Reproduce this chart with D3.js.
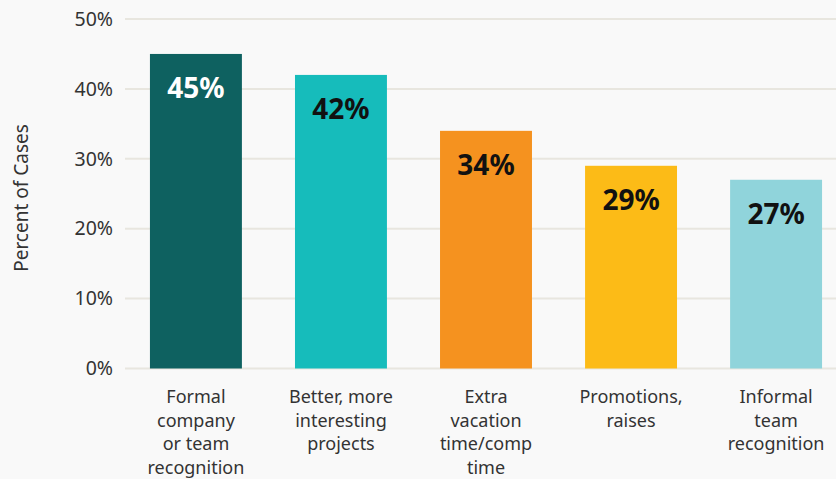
<!DOCTYPE html>
<html>
<head>
<meta charset="utf-8">
<script src="https://cdn.jsdelivr.net/npm/d3@7"></script>
<style>
  html, body { margin: 0; padding: 0; background: #f9f9f9; }
  svg { display: block; }
</style>
</head>
<body>
<svg id="chart" width="836" height="479"></svg>
<script>
// Reward types and share of cases
const categories = [
  ["Formal", "company", "or team", "recognition"],
  ["Better, more", "interesting", "projects"],
  ["Extra", "vacation", "time/comp", "time"],
  ["Promotions,", "raises"],
  ["Informal", "team", "recognition"]
];
const values = [45, 42, 34, 29, 27];
const barColors = ["#0e6160", "#16bcbb", "#f5921f", "#fcbb17", "#90d4db"];
const labelColors = ["#ffffff", "#111111", "#111111", "#111111", "#111111"];
const yTicks = [0, 10, 20, 30, 40, 50];

const W = 836, H = 479;
const svg = d3.select("#chart");
const font = "'Noto Sans', 'Open Sans', sans-serif";

const y = d3.scaleLinear().domain([0, 50]).range([368.5, 19]);
const x = d3.scaleBand()
  .domain(d3.range(values.length))
  .range([125, 847])
  .paddingInner(0.366)
  .paddingOuter(0.172);

// Gridlines
svg.append("g")
  .selectAll("line")
  .data(yTicks)
  .join("line")
  .attr("x1", 125).attr("x2", W)
  .attr("y1", d => y(d)).attr("y2", d => y(d))
  .attr("stroke", "#e8e6df")
  .attr("stroke-width", 2);

// Y axis labels
const yAxis = d3.axisLeft(y).tickValues(yTicks).tickFormat(d => d + "%").tickSize(0).tickPadding(0);
const gy = svg.append("g").attr("transform", "translate(113,0)").call(yAxis);
gy.select(".domain").remove();
gy.selectAll("text")
  .attr("font-family", font)
  .attr("font-size", 19.5)
  .attr("fill", "#333333");

// Y axis title
svg.append("text")
  .attr("transform", "translate(28,198) rotate(-90)")
  .attr("text-anchor", "middle")
  .attr("font-family", font)
  .attr("font-size", 19)
  .attr("fill", "#333333")
  .text("Percent of Cases");

// Bars
svg.append("g")
  .selectAll("rect")
  .data(values)
  .join("rect")
  .attr("x", (d, i) => x(i))
  .attr("width", x.bandwidth())
  .attr("y", d => y(d))
  .attr("height", d => y(0) - y(d))
  .attr("fill", (d, i) => barColors[i]);

// Value labels inside bars
svg.append("g")
  .selectAll("text")
  .data(values)
  .join("text")
  .attr("x", (d, i) => x(i) + x.bandwidth() / 2)
  .attr("y", d => y(d) + 44)
  .attr("text-anchor", "middle")
  .attr("font-family", font)
  .attr("font-weight", "bold")
  .attr("font-size", 28)
  .attr("fill", (d, i) => labelColors[i])
  .text(d => d + "%");

// Category labels
const cat = svg.append("g")
  .selectAll("text")
  .data(categories)
  .join("text")
  .attr("x", (d, i) => x(i) + x.bandwidth() / 2)
  .attr("y", 403)
  .attr("text-anchor", "middle")
  .attr("font-family", font)
  .attr("font-size", 18)
  .attr("fill", "#333333");
cat.selectAll("tspan")
  .data(d => d)
  .join("tspan")
  .attr("x", function () { return this.parentNode.getAttribute("x"); })
  .attr("dy", (d, i) => i === 0 ? 0 : 23.5)
  .text(d => d);
</script>
</body>
</html>
